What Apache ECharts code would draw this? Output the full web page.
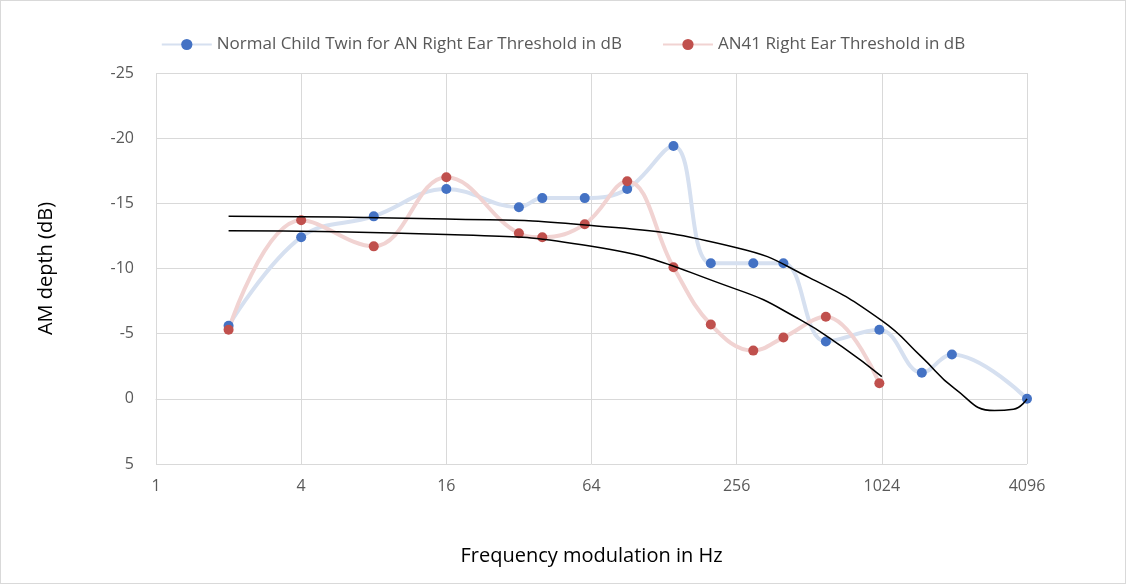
<!DOCTYPE html>
<html>
<head>
<meta charset="utf-8">
<script src="https://cdn.jsdelivr.net/npm/echarts@6/dist/echarts.min.js"></script>
<style>
  html, body { margin: 0; padding: 0; background: #fff; }
  #main { width: 1126px; height: 584px; box-sizing: border-box; border: 1px solid #d9d9d9; }
</style>
</head>
<body>
<div id="main"></div>
<script>
var chartDom = document.getElementById('main');
var myChart = echarts.init(chartDom);

// frequencies (Hz) and thresholds (dB)
var normalFreq = [2, 4, 8, 16, 32, 40, 60, 90, 140, 200, 300, 400, 600, 1000, 1500, 2000, 4096];
var normalDb = [-5.6, -12.4, -14.0, -16.1, -14.7, -15.4, -15.4, -16.1, -19.4, -10.4, -10.4, -10.4, -4.4, -5.3, -2.0, -3.4, 0];
var anFreq = [2, 4, 8, 16, 32, 40, 60, 90, 140, 200, 300, 400, 600, 1000];
var anDb = [-5.3, -13.7, -11.7, -17.0, -12.7, -12.4, -13.4, -16.7, -10.1, -5.7, -3.7, -4.7, -6.3, -1.2];

// trend lines
var normalTrendFreq = [2, 16, 64, 256, 512, 1024, 1500, 2048, 3000, 3600, 4096];
var normalTrendDb = [-14.0, -13.8, -13.3, -11.6, -9.3, -6.0, -3.2, -0.8, 0.9, 0.8, 0];
var anTrendFreq = [2, 16, 64, 256, 467, 700, 1024];
var anTrendDb = [-12.9, -12.6, -11.7, -8.4, -6.1, -4.0, -1.7];

function pairs(xs, ys) {
    return xs.map(function (x, i) { return [x, ys[i]]; });
}

var option = {
    animation: false,
    legend: {
        top: 30,
        left: 'center',
        itemGap: 40,
        itemWidth: 50,
        textStyle: { fontSize: 17, color: '#595959', fontFamily: 'Open Sans' },
        data: ['Normal Child Twin for AN Right Ear Threshold in dB', 'AN41 Right Ear Threshold in dB']
    },
    grid: { left: 155, right: 98, top: 72, bottom: 119 },
    xAxis: {
        type: 'log',
        logBase: 2,
        min: 1,
        max: 4096,
        interval: 2,
        name: 'Frequency modulation in Hz',
        nameLocation: 'middle',
        nameGap: 82,
        nameTextStyle: { fontSize: 20, color: '#000', fontFamily: 'Open Sans' },
        axisLine: { lineStyle: { color: '#d9d9d9' } },
        axisTick: { show: true, lineStyle: { color: '#d9d9d9' } },
        axisLabel: { fontSize: 16, color: '#595959', margin: 14, fontFamily: 'Open Sans',
            formatter: function (v) { return String(Math.round(v)); } },
        splitLine: { show: true, lineStyle: { color: '#d9d9d9' } }
    },
    yAxis: {
        type: 'value',
        inverse: true,
        min: -25,
        max: 5,
        interval: 5,
        name: 'AM depth (dB)',
        nameLocation: 'middle',
        nameGap: 100,
        nameTextStyle: { fontSize: 20, color: '#000', fontFamily: 'Open Sans' },
        axisLine: { show: false },
        axisTick: { show: false },
        axisLabel: { fontSize: 16, color: '#595959', margin: 22, fontFamily: 'Open Sans' },
        splitLine: { lineStyle: { color: '#d9d9d9' } }
    },
    series: [
        {
            name: 'Normal Child Twin for AN Right Ear Threshold in dB',
            type: 'line',
            smooth: 0.4,
            data: pairs(normalFreq, normalDb),
            symbol: 'circle',
            symbolSize: 10,
            itemStyle: { color: '#4472c4' },
            lineStyle: { color: '#d6e0f0', width: 4 },
            z: 3
        },
        {
            name: 'AN41 Right Ear Threshold in dB',
            type: 'line',
            smooth: 0.4,
            data: pairs(anFreq, anDb),
            symbol: 'circle',
            symbolSize: 10,
            itemStyle: { color: '#c0504d' },
            lineStyle: { color: '#f1d3d2', width: 4 },
            z: 3
        },
        {
            name: 'trend1',
            type: 'line',
            smooth: 0.5,
            showSymbol: false,
            data: pairs(normalTrendFreq, normalTrendDb),
            lineStyle: { color: '#000', width: 1.5 },
            z: 4
        },
        {
            name: 'trend2',
            type: 'line',
            smooth: 0.5,
            showSymbol: false,
            data: pairs(anTrendFreq, anTrendDb),
            lineStyle: { color: '#000', width: 1.5 },
            z: 4
        }
    ]
};

option && myChart.setOption(option);
</script>
</body>
</html>
